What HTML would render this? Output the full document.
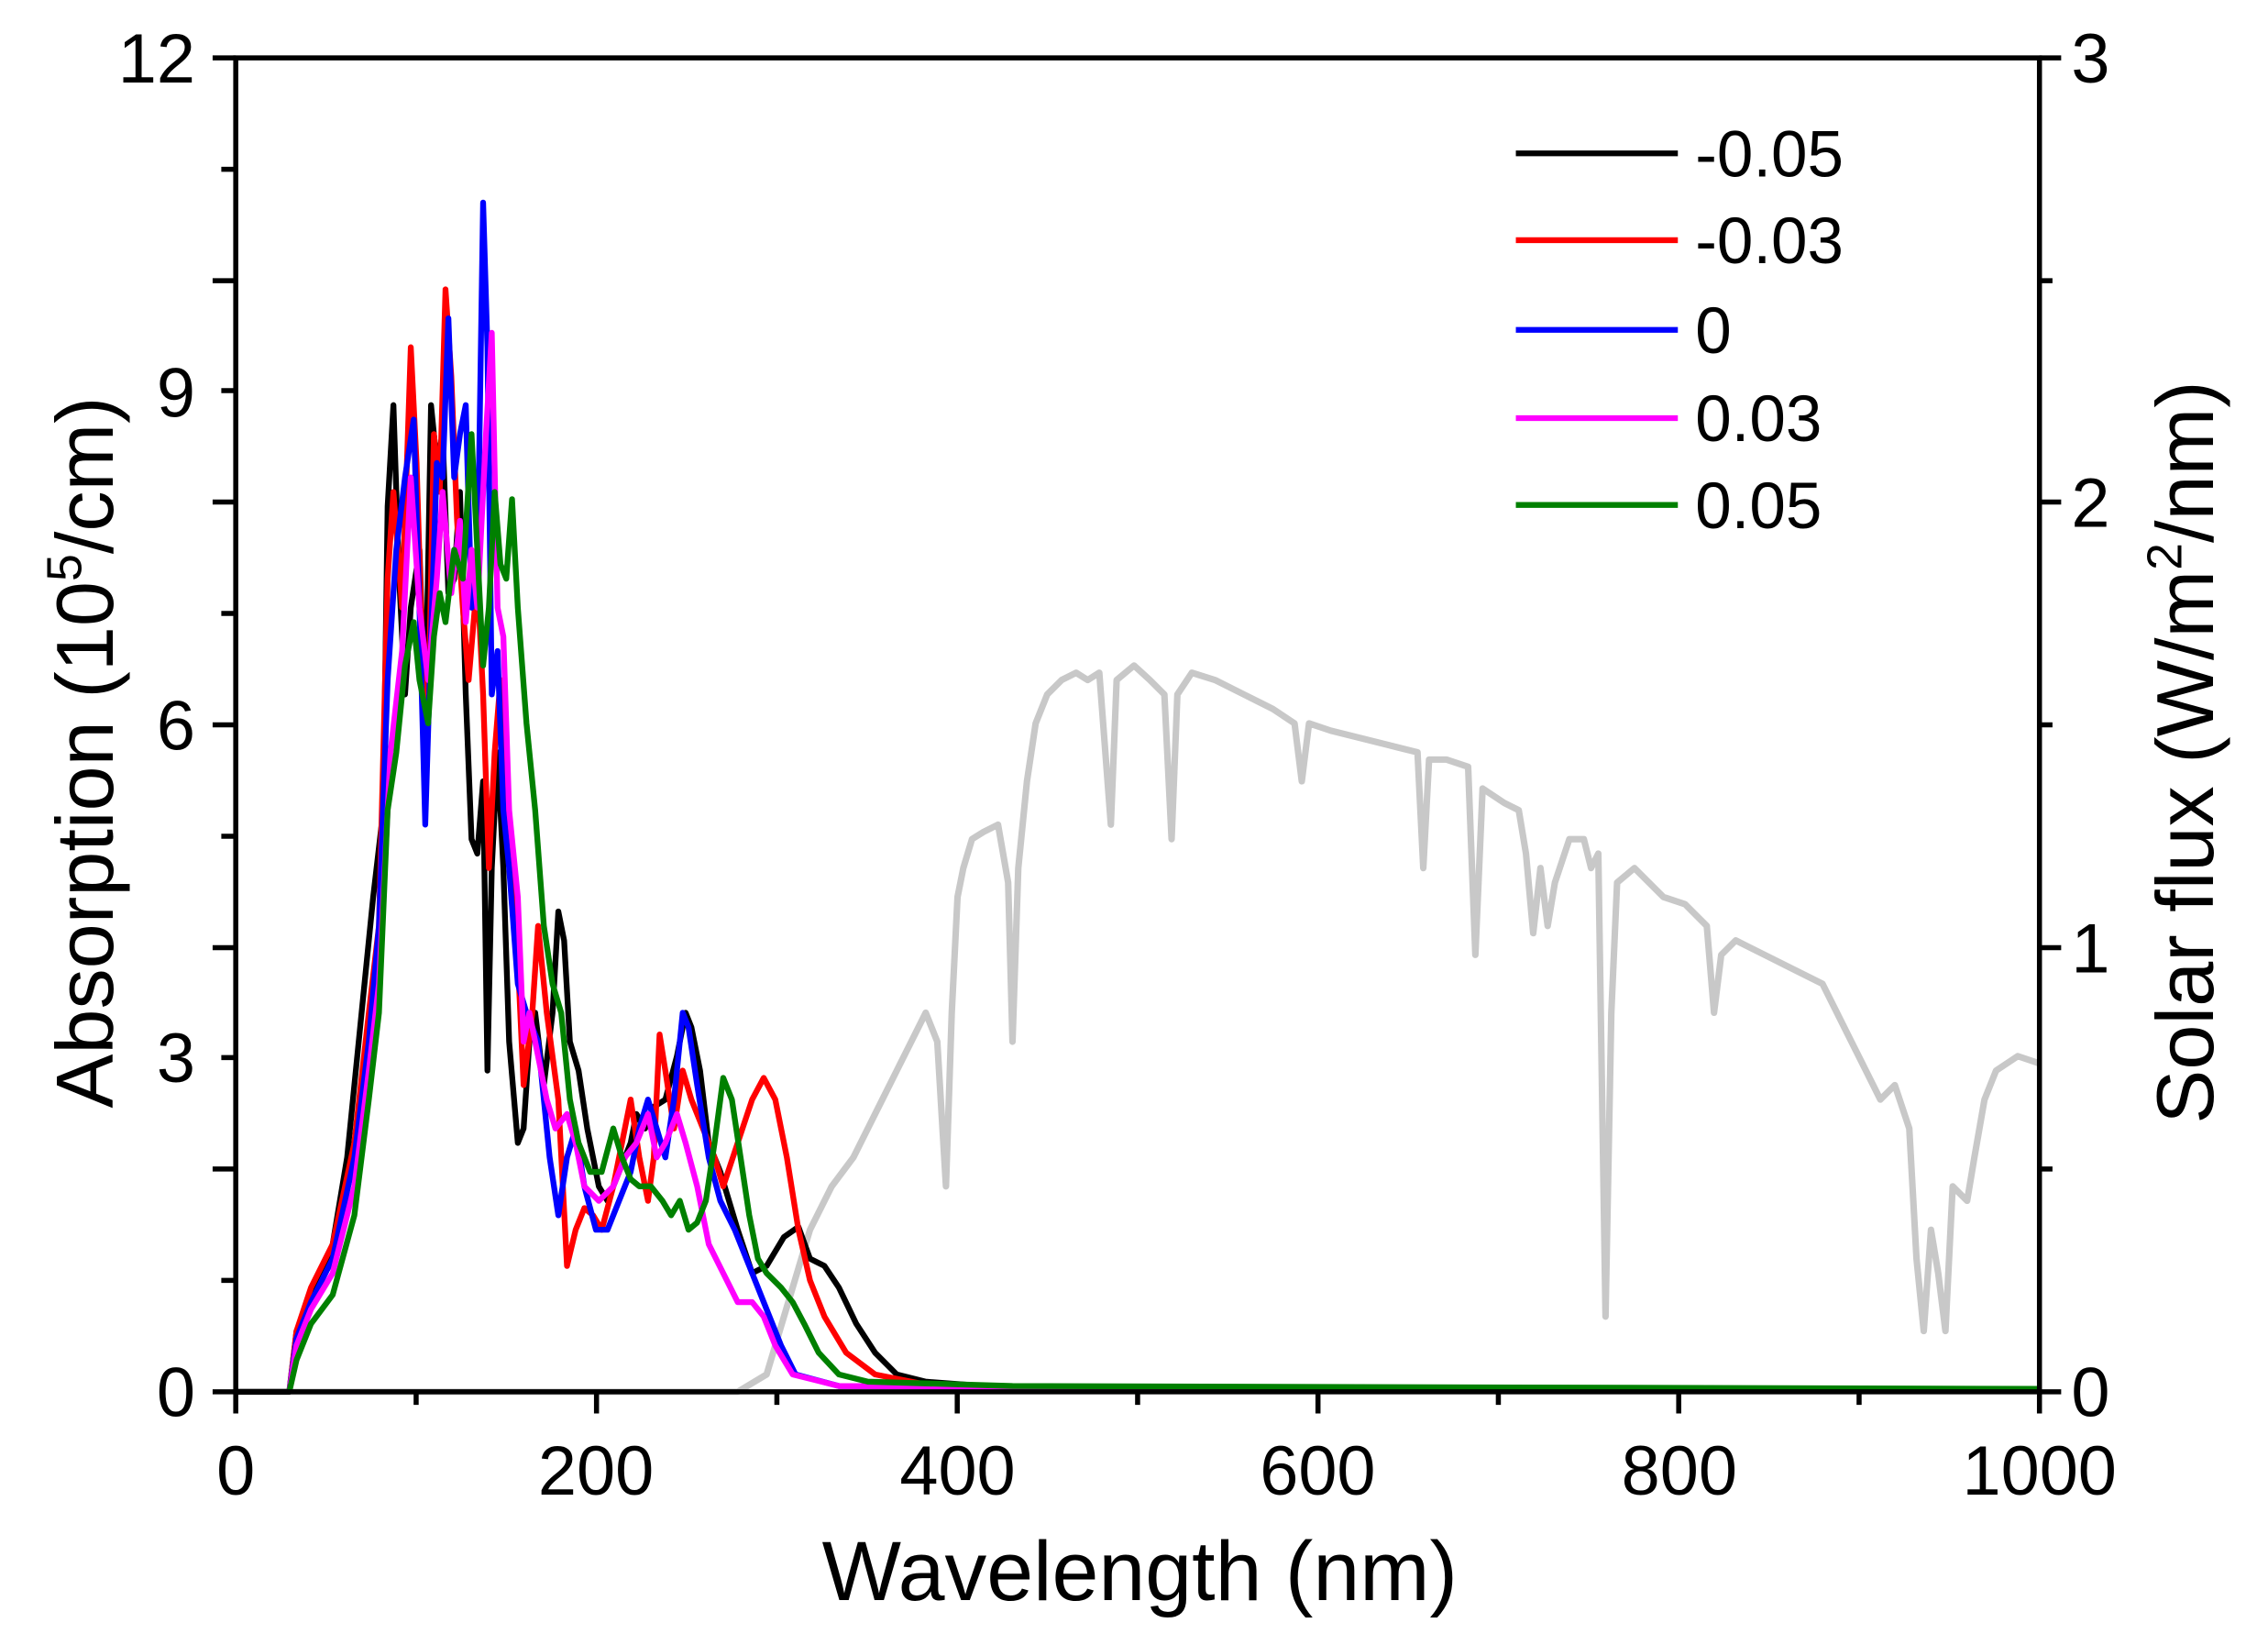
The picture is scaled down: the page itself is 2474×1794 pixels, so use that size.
<!DOCTYPE html>
<html><head><meta charset="utf-8"><style>
html,body{margin:0;padding:0;background:#fff}
svg{display:block}
text{font-family:"Liberation Sans",sans-serif;fill:#000}
</style></head><body>
<svg width="2474" height="1794" viewBox="0 0 1568 1137" xmlns="http://www.w3.org/2000/svg">
<rect width="1568" height="1137" fill="#fff"/>
<g fill="none" stroke-width="4" stroke-linejoin="round">
<polyline stroke="#c8c8c8" stroke-width="4.5" points="163,962 510,962 530,950 545,900 560,850 575,820 590,800 600,780 610,760 620,740 630,720 640,700 648,720 654,820 658,700 662,620 666,600 672,580 680,575 690,570 697,610 700,720 704,600 710,540 716,500 724,480 734,470 744,465 752,470 760,465 768,570 772,470 784,460 795,470 805,480 810,580 814,480 824,465 840,470 860,480 880,490 895,500 900,540 905,500 920,505 940,510 960,515 980,520 984,600 988,525 1000,525 1015,530 1020,660 1025,545 1040,555 1050,560 1055,590 1060,645 1065,600 1070,640 1075,610 1085,580 1095,580 1100,600 1105,590 1110,910 1114,700 1118,610 1130,600 1140,610 1150,620 1165,625 1180,640 1185,700 1190,660 1200,650 1220,660 1240,670 1260,680 1270,700 1280,720 1290,740 1300,760 1310,750 1320,780 1325,870 1330,920 1335,850 1340,880 1345,920 1350,820 1360,830 1365,800 1372,760 1380,740 1395,730 1410,735"/>
<polyline stroke="#000" points="163,962 200,962 205,920 215,900 230,860 240,800 250,700 258,620 265,560 268,350 272,280 276,400 280,480 284,420 290,380 294,500 298,280 302,320 306,300 310,410 314,400 318,340 322,480 326,580 330,590 334,540 337,740 340,600 344,520 348,600 352,720 358,790 362,780 366,720 370,700 376,750 382,700 386,630 390,650 394,720 400,740 406,780 414,820 420,830 428,810 436,790 440,770 446,780 452,765 460,760 468,730 474,700 478,710 484,740 490,790 498,810 510,850 520,880 530,875 542,855 552,848 560,870 570,875 580,890 592,915 605,935 620,950 640,955 680,958 800,960 1410,961"/>
<polyline stroke="#ff0000" points="200,962 205,920 215,890 230,860 245,790 255,700 262,640 268,400 272,340 278,420 284,240 288,320 292,450 296,500 300,300 304,340 308,200 312,260 316,360 320,420 324,470 330,400 334,480 338,600 342,520 346,470 350,550 356,620 362,750 368,700 372,640 378,700 386,760 392,875 398,850 404,835 410,840 416,850 424,820 430,790 436,760 442,800 448,830 452,800 456,715 460,740 466,780 472,740 478,760 486,780 494,800 500,820 510,790 520,760 528,745 536,760 544,800 552,850 560,885 570,910 585,935 605,950 640,957 800,960 1410,961"/>
<polyline stroke="#0000ff" points="200,962 205,925 215,900 230,870 245,800 255,720 262,640 268,470 274,380 280,330 286,290 290,420 294,570 298,440 302,320 306,330 310,220 314,330 318,300 322,280 326,420 330,400 334,140 337,240 340,480 344,450 348,560 352,600 358,680 364,700 372,720 380,800 386,840 392,800 398,780 404,820 412,850 420,850 428,830 436,810 442,780 448,760 454,780 460,800 466,760 472,700 476,710 482,750 490,800 498,830 508,850 518,875 528,900 540,930 550,950 580,958 1410,961"/>
<polyline stroke="#ff00ff" points="200,962 205,930 215,905 230,880 245,820 255,740 262,680 270,520 278,450 284,330 290,420 296,470 302,400 306,340 312,410 318,360 322,430 326,380 330,420 336,300 340,230 344,420 348,440 352,560 358,620 362,720 366,700 372,730 378,760 384,780 392,770 398,790 404,820 414,830 424,820 432,800 440,790 448,770 454,800 460,790 468,770 474,790 482,820 490,860 500,880 510,900 520,900 528,910 536,930 548,950 580,958 1410,961"/>
<polyline stroke="#008000" points="200,962 205,940 215,915 230,895 245,840 255,760 262,700 268,560 274,520 280,460 286,430 290,470 296,500 300,440 304,410 308,430 314,380 320,400 326,300 330,380 334,460 338,420 342,340 346,390 350,400 354,345 358,420 364,500 370,560 376,640 382,680 388,700 394,760 400,790 408,810 416,810 424,780 430,800 436,815 442,820 450,820 458,830 464,840 470,830 476,850 482,845 488,830 494,790 500,745 506,760 512,800 518,840 524,870 530,880 540,890 548,900 556,915 566,935 580,950 600,955 700,958 1410,960"/>
</g>
<g stroke="#000" stroke-width="3.5" fill="none">
<rect x="163" y="40" width="1247" height="922"/>
<path d="M163,962v15 M287.7,962v9 M412.4,962v15 M537.1,962v9 M661.8,962v15 M786.5,962v9 M911.2,962v15 M1035.9,962v9 M1160.6,962v15 M1285.3,962v9 M1410,962v15"/>
<path d="M147,962h16 M153,885h10 M147,808h16 M153,731h10 M147,655h16 M153,578h10 M147,501h16 M153,424h10 M147,347h16 M153,270h10 M147,194h16 M153,117h10 M147,40h16"/>
<path d="M1410,962h15 M1410,808h9 M1410,655h15 M1410,501h9 M1410,347h15 M1410,194h9 M1410,40h15"/>
</g>
<g font-size="48">
<text x="135" y="979" text-anchor="end">0</text>
<text x="135" y="748" text-anchor="end">3</text>
<text x="135" y="518" text-anchor="end">6</text>
<text x="135" y="288" text-anchor="end">9</text>
<text x="135" y="57" text-anchor="end">12</text>
<text x="1432" y="979">0</text>
<text x="1432" y="672">1</text>
<text x="1432" y="364">2</text>
<text x="1432" y="57">3</text>
<text x="163" y="1033" text-anchor="middle">0</text>
<text x="412" y="1033" text-anchor="middle">200</text>
<text x="662" y="1033" text-anchor="middle">400</text>
<text x="911" y="1033" text-anchor="middle">600</text>
<text x="1161" y="1033" text-anchor="middle">800</text>
<text x="1410" y="1033" text-anchor="middle">1000</text>
</g>
<text x="788" y="1106" font-size="58" text-anchor="middle">Wavelength (nm)</text>
<text transform="translate(78,520) rotate(-90)" font-size="56" text-anchor="middle">Absorption (10<tspan font-size="34" dy="-22">5</tspan><tspan dy="22">/cm)</tspan></text>
<text transform="translate(1530,520) rotate(-90)" font-size="56" text-anchor="middle">Solar flux (W/m<tspan font-size="34" dy="-22">2</tspan><tspan dy="22">/nm)</tspan></text>
<g stroke-width="4">
<line x1="1048" y1="106" x2="1160" y2="106" stroke="#000"/>
<line x1="1048" y1="166" x2="1160" y2="166" stroke="#ff0000"/>
<line x1="1048" y1="228" x2="1160" y2="228" stroke="#0000ff"/>
<line x1="1048" y1="289" x2="1160" y2="289" stroke="#ff00ff"/>
<line x1="1048" y1="349" x2="1160" y2="349" stroke="#008000"/>
</g>
<g font-size="45">
<text x="1172" y="122">-0.05</text>
<text x="1172" y="182">-0.03</text>
<text x="1172" y="244">0</text>
<text x="1172" y="305">0.03</text>
<text x="1172" y="365">0.05</text>
</g>
</svg>
</body></html>
